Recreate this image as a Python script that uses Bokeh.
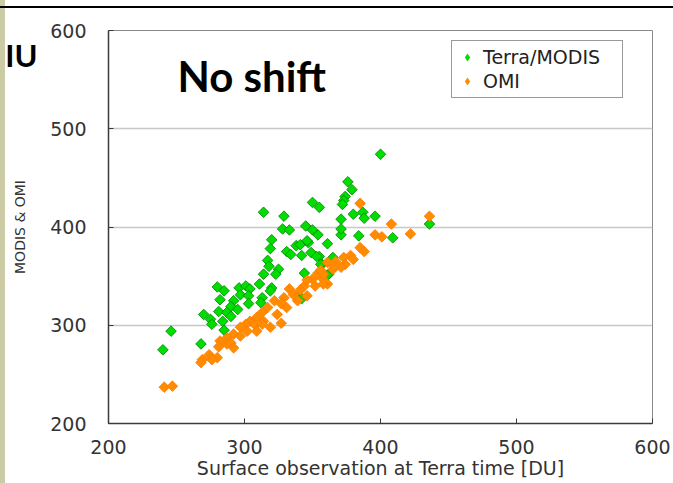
import numpy as np
from bokeh.plotting import figure
from bokeh.models import Range1d, FixedTicker, Label, Legend, LegendItem, LinearAxis
from bokeh.embed import file_html
from bokeh.resources import INLINE

# ---------------- data ----------------
x_ticks = [200, 300, 400, 500, 600]
y_ticks = [200, 300, 400, 500, 600]

modis_x = [400, 376, 379, 374, 373, 372, 350, 355, 314, 329, 380, 387, 388, 396, 371,
           436, 409, 384, 371, 371, 328, 333, 345, 350, 354, 361, 320, 319, 331, 338,
           341, 347, 334, 342, 349, 355, 317, 365, 318, 325, 357, 314, 323, 344, 362,
           311, 320, 280, 285, 296, 301, 304, 297, 303, 282, 292, 313, 319, 303, 290,
           295, 270, 281, 287, 275, 284, 290, 276, 285, 246, 268, 240, 340, 312, 346,
           353, 356, 361, 342]
modis_y = [474, 446, 438, 431, 427, 423, 425, 420, 415, 411, 413, 415, 409, 411, 408,
           403, 389, 391, 392, 398, 398, 397, 401, 397, 392, 383, 387, 378, 375, 381,
           382, 384, 372, 371, 374, 370, 366, 369, 360, 357, 362, 352, 352, 353, 352,
           342, 338, 339, 335, 338, 340, 337, 331, 330, 326, 325, 328, 335, 322, 319,
           316, 311, 314, 313, 306, 304, 309, 301, 295, 294, 281, 275, 330, 323, 386,
           370, 362, 351, 327]

omi_x = [385, 436, 408, 396, 401, 422, 385, 388, 378, 373, 367, 374, 371, 365, 354,
         357, 350, 361, 352, 344, 341, 333, 336, 329, 322, 327, 317, 313, 309, 304,
         301, 297, 319, 327, 314, 292, 287, 282, 287, 281, 290, 274, 280, 269, 268,
         241, 247, 297, 302, 308, 324, 331, 339, 346, 358, 380, 292, 276, 309, 313,
         366, 361, 356, 346, 358]
omi_y = [424, 411, 403, 392, 390, 393, 379, 375, 371, 369, 365, 362, 359, 357, 353,
         348, 347, 342, 340, 340, 336, 337, 331, 328, 325, 322, 318, 313, 308, 304,
         301, 298, 298, 302, 304, 291, 287, 284, 281, 278, 282, 270, 267, 265, 262,
         237, 238, 289, 294, 300, 311, 318, 325, 330, 352, 367, 277, 265, 294, 301,
         360, 364, 356, 346, 342]

series_labels = ["Terra/MODIS", "OMI"]
x_title = "Surface observation at Terra time [DU]"
y_title = "MODIS & OMI"
panel_title = "No shift"
corner_text = "IU"

# ---------------- layout (pixels of the plot frame) ----------------
W, H = 673, 483
FL, FR, FT, FB = 108, 652, 30, 423


def dx(px):
    return 200 + (px - FL) * 400.0 / (FR - FL)


def dy(py):
    return 200 + (FB - py) * 400.0 / (FB - FT)


p = figure(width=W, height=H, output_backend="svg", toolbar_location=None,
           x_range=Range1d(200, 600), y_range=Range1d(200, 600),
           min_border_left=FL, min_border_right=W - FR,
           min_border_top=FT, min_border_bottom=H - FB)

# slide decorations behind the transparent border area
p.border_fill_alpha = 0
p.styles = {"background": "linear-gradient(#000000,#000000) 0 6px / 100% 2px no-repeat, "
                          "linear-gradient(#cbcba6,#cbcba6) 0 0 / 5px 100% no-repeat, #ffffff"}
p.background_fill_color = "white"
p.outline_line_color = "#8a8a8a"
p.outline_line_width = 1

for ax, ticks in ((p.xaxis, x_ticks), (p.yaxis, y_ticks)):
    ax.ticker = FixedTicker(ticks=ticks)
    ax.axis_line_color = "#3a3a3a"
    ax.axis_line_width = 1.5
    ax.major_tick_in = 5
    ax.major_tick_out = 0
    ax.major_tick_line_color = "#3a3a3a"
    ax.minor_tick_line_color = None
    ax.major_label_text_font = "DejaVu Sans"
    ax.major_label_text_font_size = "19px"
    ax.major_label_text_color = "#333333"
    ax.axis_label_text_font = "DejaVu Sans"
    ax.axis_label_text_font_style = "normal"
    ax.axis_label_text_color = "#333333"

p.xaxis.major_label_standoff = 16
p.xaxis.axis_label = x_title
p.xaxis.axis_label_text_font_size = "19px"
p.xaxis.axis_label_standoff = 0

p.yaxis.major_label_standoff = 22
p.yaxis.axis_label = y_title
p.yaxis.axis_label_text_font_size = "14px"
p.yaxis.axis_label_standoff = 19

# outer left axis carrying only the cut-off slide heading text
corner_axis = LinearAxis(ticker=FixedTicker(ticks=[575]),
                         major_label_overrides={575: corner_text},
                         axis_line_color=None, major_tick_line_color=None,
                         minor_tick_line_color=None, major_tick_out=0, major_tick_in=0,
                         major_label_standoff=-28,
                         major_label_text_font="Lato", major_label_text_font_style="bold",
                         major_label_text_font_size="31px",
                         major_label_text_color="black")
p.add_layout(corner_axis, "left")

p.xgrid.visible = False
p.ygrid.ticker = FixedTicker(ticks=y_ticks)
p.ygrid.grid_line_color = "#c8c8c8"
p.ygrid.grid_line_width = 1.5

green_fill, green_line = "#00dd00", "#008000"
orange_fill, orange_line = "#ff8c00", "#ff7a00"

r1 = p.scatter(modis_x, modis_y, marker="square", angle=np.pi / 4, size=7.5,
               fill_color=green_fill, line_color=green_line, line_width=0.8)
r2 = p.scatter(omi_x, omi_y, marker="square", angle=np.pi / 4, size=7.5,
               fill_color=orange_fill, line_color=orange_line, line_width=0.8)

# legend swatches: diamonds of zero size on the same data (only the legend shows them)
k1 = p.scatter(modis_x, modis_y, marker="diamond", size=0,
               fill_color=green_fill, line_color=None)
k2 = p.scatter(omi_x, omi_y, marker="diamond", size=0,
               fill_color=orange_fill, line_color=None)

legend = Legend(items=[LegendItem(label=series_labels[0], renderers=[k1]),
                       LegendItem(label=series_labels[1], renderers=[k2])],
                location=(451 - FL, FB - 98),
                label_text_font="DejaVu Sans", label_text_font_size="19px",
                label_text_color="#222222",
                glyph_width=20, glyph_height=20, label_height=20, label_width=134,
                label_standoff=6, spacing=2, padding=5, margin=0,
                border_line_color="#333333", border_line_width=1.2,
                background_fill_color="white", background_fill_alpha=1)
p.add_layout(legend)

p.add_layout(Label(x=dx(177), y=dy(75), text=panel_title,
                   text_font="Lato", text_font_style="bold",
                   text_font_size="42px", text_color="black",
                   text_align="left", text_baseline="alphabetic"))

open("out.html", "w").write(file_html(p, INLINE))
